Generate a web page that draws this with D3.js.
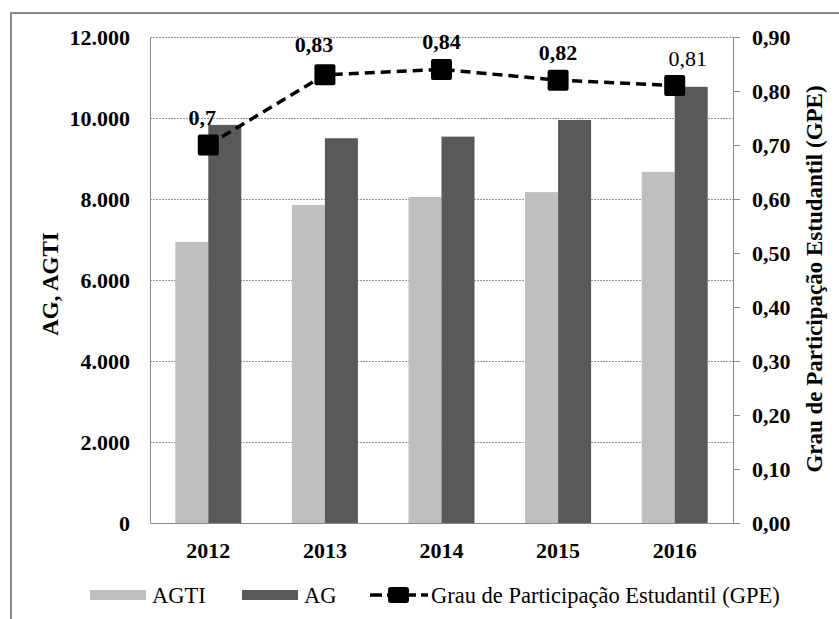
<!DOCTYPE html>
<html>
<head>
<meta charset="utf-8">
<script src="https://cdn.jsdelivr.net/npm/d3@7"></script>
<style>
  body { margin: 0; background: #fff; }
</style>
</head>
<body>
<div id="chart"></div>
<script>
// Data
const years = ['2012', '2013', '2014', '2015', '2016'];
const agti = [6940, 7850, 8050, 8170, 8670];
const ag = [9830, 9500, 9540, 9950, 10770];
const gpe = [0.70, 0.83, 0.84, 0.82, 0.81];
const gpeLabels = ['0,7', '0,83', '0,84', '0,82', '0,81'];
const leftTicks = [0, 2000, 4000, 6000, 8000, 10000, 12000];
const rightTicks = [0, 0.1, 0.2, 0.3, 0.4, 0.5, 0.6, 0.7, 0.8, 0.9];

const W = 839, H = 619;
const margin = { top: 37, right: 106, bottom: 96, left: 150 };
const width = W - margin.left - margin.right;
const height = H - margin.top - margin.bottom;
const FONT = '"Liberation Serif"';

const root = d3.select('#chart').append('svg')
    .attr('width', W)
    .attr('height', H);

// outer frame (only top and left are visible)
root.append('path')
    .attr('d', `M11,${H} V13 H${W}`)
    .attr('fill', 'none')
    .attr('stroke', '#8a8a8a')
    .attr('stroke-width', 2);

const svg = root.append('g')
    .attr('transform', `translate(${margin.left},${margin.top})`);

// Scales
const x = d3.scaleBand().domain(years).range([0, width]);
const x1 = d3.scaleBand().domain(['agti', 'ag']).range([0, 66]);
const y = d3.scaleLinear().domain([0, 12000]).range([height, 0]);
const y2 = d3.scaleLinear().domain([0, 0.9]).range([height, 0]);

// Grid lines (dotted)
svg.append('g')
    .selectAll('line')
    .data(leftTicks.filter(d => d > 0))
    .join('line')
    .attr('x1', 0)
    .attr('x2', width)
    .attr('y1', d => Math.round(y(d)) + 0.5)
    .attr('y2', d => Math.round(y(d)) + 0.5)
    .attr('stroke', '#9a9a9a')
    .attr('stroke-width', 1)
    .attr('stroke-dasharray', '2,1');

// Bars
const groups = svg.append('g')
    .selectAll('g')
    .data(years)
    .join('g')
    .attr('transform', d => `translate(${x(d) + x.bandwidth() / 2 - 33},0)`);

groups.append('rect')
    .attr('x', x1('agti'))
    .attr('width', x1.bandwidth())
    .attr('y', (d, i) => y(agti[i]))
    .attr('height', (d, i) => height - y(agti[i]))
    .attr('fill', '#bfbfbf');

groups.append('rect')
    .attr('x', x1('ag'))
    .attr('width', x1.bandwidth())
    .attr('y', (d, i) => y(ag[i]))
    .attr('height', (d, i) => height - y(ag[i]))
    .attr('fill', '#595959');

function styleText(sel, bold, size) {
    sel.attr('fill', '#000')
        .style('font-family', FONT)
        .style('font-size', (size || 22) + 'px')
        .style('font-weight', bold ? 'bold' : 'normal');
}

// Left axis
const leftAxis = svg.append('g')
    .call(d3.axisLeft(y)
        .tickValues(leftTicks)
        .tickSize(0)
        .tickPadding(20)
        .tickFormat(d => d === 0 ? '0' : d3.format(',')(d).replace(/,/g, '.')));
leftAxis.select('.domain').attr('stroke', '#8a8a8a');
styleText(leftAxis.selectAll('text'), true);

// Right axis
const rightAxis = svg.append('g')
    .attr('transform', `translate(${width},0)`)
    .call(d3.axisRight(y2)
        .tickValues(rightTicks)
        .tickSize(7)
        .tickSizeOuter(0)
        .tickPadding(12)
        .tickFormat(d => d3.format('.2f')(d).replace('.', ',')));
rightAxis.select('.domain').attr('stroke', '#8a8a8a');
rightAxis.selectAll('line').attr('stroke', '#8a8a8a');
styleText(rightAxis.selectAll('text'), true);

// Bottom axis
const bottomAxis = svg.append('g')
    .attr('transform', `translate(0,${height})`)
    .call(d3.axisBottom(x).tickSize(0).tickPadding(19));
bottomAxis.select('.domain').attr('stroke', '#8a8a8a');
styleText(bottomAxis.selectAll('text'), true);

// Top dotted border
svg.append('line')
    .attr('x1', 0).attr('x2', width)
    .attr('y1', 0.5).attr('y2', 0.5)
    .attr('stroke', '#9a9a9a')
    .attr('stroke-dasharray', '2,1');

// GPE line
const cx = (d, i) => x(years[i]) + x.bandwidth() / 2;
const line = d3.line()
    .x(cx)
    .y(d => y2(d));

svg.append('path')
    .datum(gpe)
    .attr('fill', 'none')
    .attr('stroke', '#000')
    .attr('stroke-width', 3.5)
    .attr('stroke-dasharray', '10,6')
    .attr('d', line);

svg.append('g')
    .selectAll('rect')
    .data(gpe)
    .join('rect')
    .attr('x', (d, i) => cx(d, i) - 10.5)
    .attr('y', d => y2(d) - 10.5)
    .attr('width', 21)
    .attr('height', 21)
    .attr('rx', 2)
    .attr('fill', '#000');

// data labels, nudged the way the original places them
const labelDx = i => [-6, -11, 0, 0, 13][i];
const labelDy = i => (i === 1 ? -23 : -20);
const labels = svg.append('g')
    .selectAll('text')
    .data(gpe)
    .join('text')
    .attr('x', (d, i) => cx(d, i) + labelDx(i))
    .attr('y', (d, i) => y2(d) + labelDy(i))
    .attr('text-anchor', 'middle')
    .text((d, i) => gpeLabels[i]);
styleText(labels, true);
labels.filter((d, i) => i === 4).style('font-weight', 'normal');

// Axis titles
styleText(root.append('text')
    .attr('transform', `translate(58,284) rotate(-90)`)
    .attr('text-anchor', 'middle')
    .text('AG, AGTI'), true, 23);

styleText(root.append('text')
    .attr('transform', `translate(822,279) rotate(-90)`)
    .attr('text-anchor', 'middle')
    .text('Grau de Participação Estudantil (GPE)'), true, 23);

// Legend
const legend = root.append('g').attr('transform', 'translate(0,595)');

legend.append('rect').attr('x', 90).attr('y', -5).attr('width', 56).attr('height', 10).attr('fill', '#bfbfbf');
styleText(legend.append('text').attr('x', 152).attr('y', 8).text('AGTI'), false, 22.5);

legend.append('rect').attr('x', 242).attr('y', -5).attr('width', 56).attr('height', 10).attr('fill', '#595959');
styleText(legend.append('text').attr('x', 304).attr('y', 8).text('AG'), false, 22.5);

legend.append('line')
    .attr('x1', 370).attr('x2', 428)
    .attr('y1', 0).attr('y2', 0)
    .attr('stroke', '#000')
    .attr('stroke-width', 3.5)
    .attr('stroke-dasharray', '12,5');
legend.append('rect')
    .attr('x', 388).attr('y', -8).attr('width', 21).attr('height', 16)
    .attr('rx', 3)
    .attr('fill', '#000');
styleText(legend.append('text').attr('x', 431).attr('y', 8)
    .text('Grau de Participação Estudantil (GPE)'), false, 22.5);
</script>
</body>
</html>
